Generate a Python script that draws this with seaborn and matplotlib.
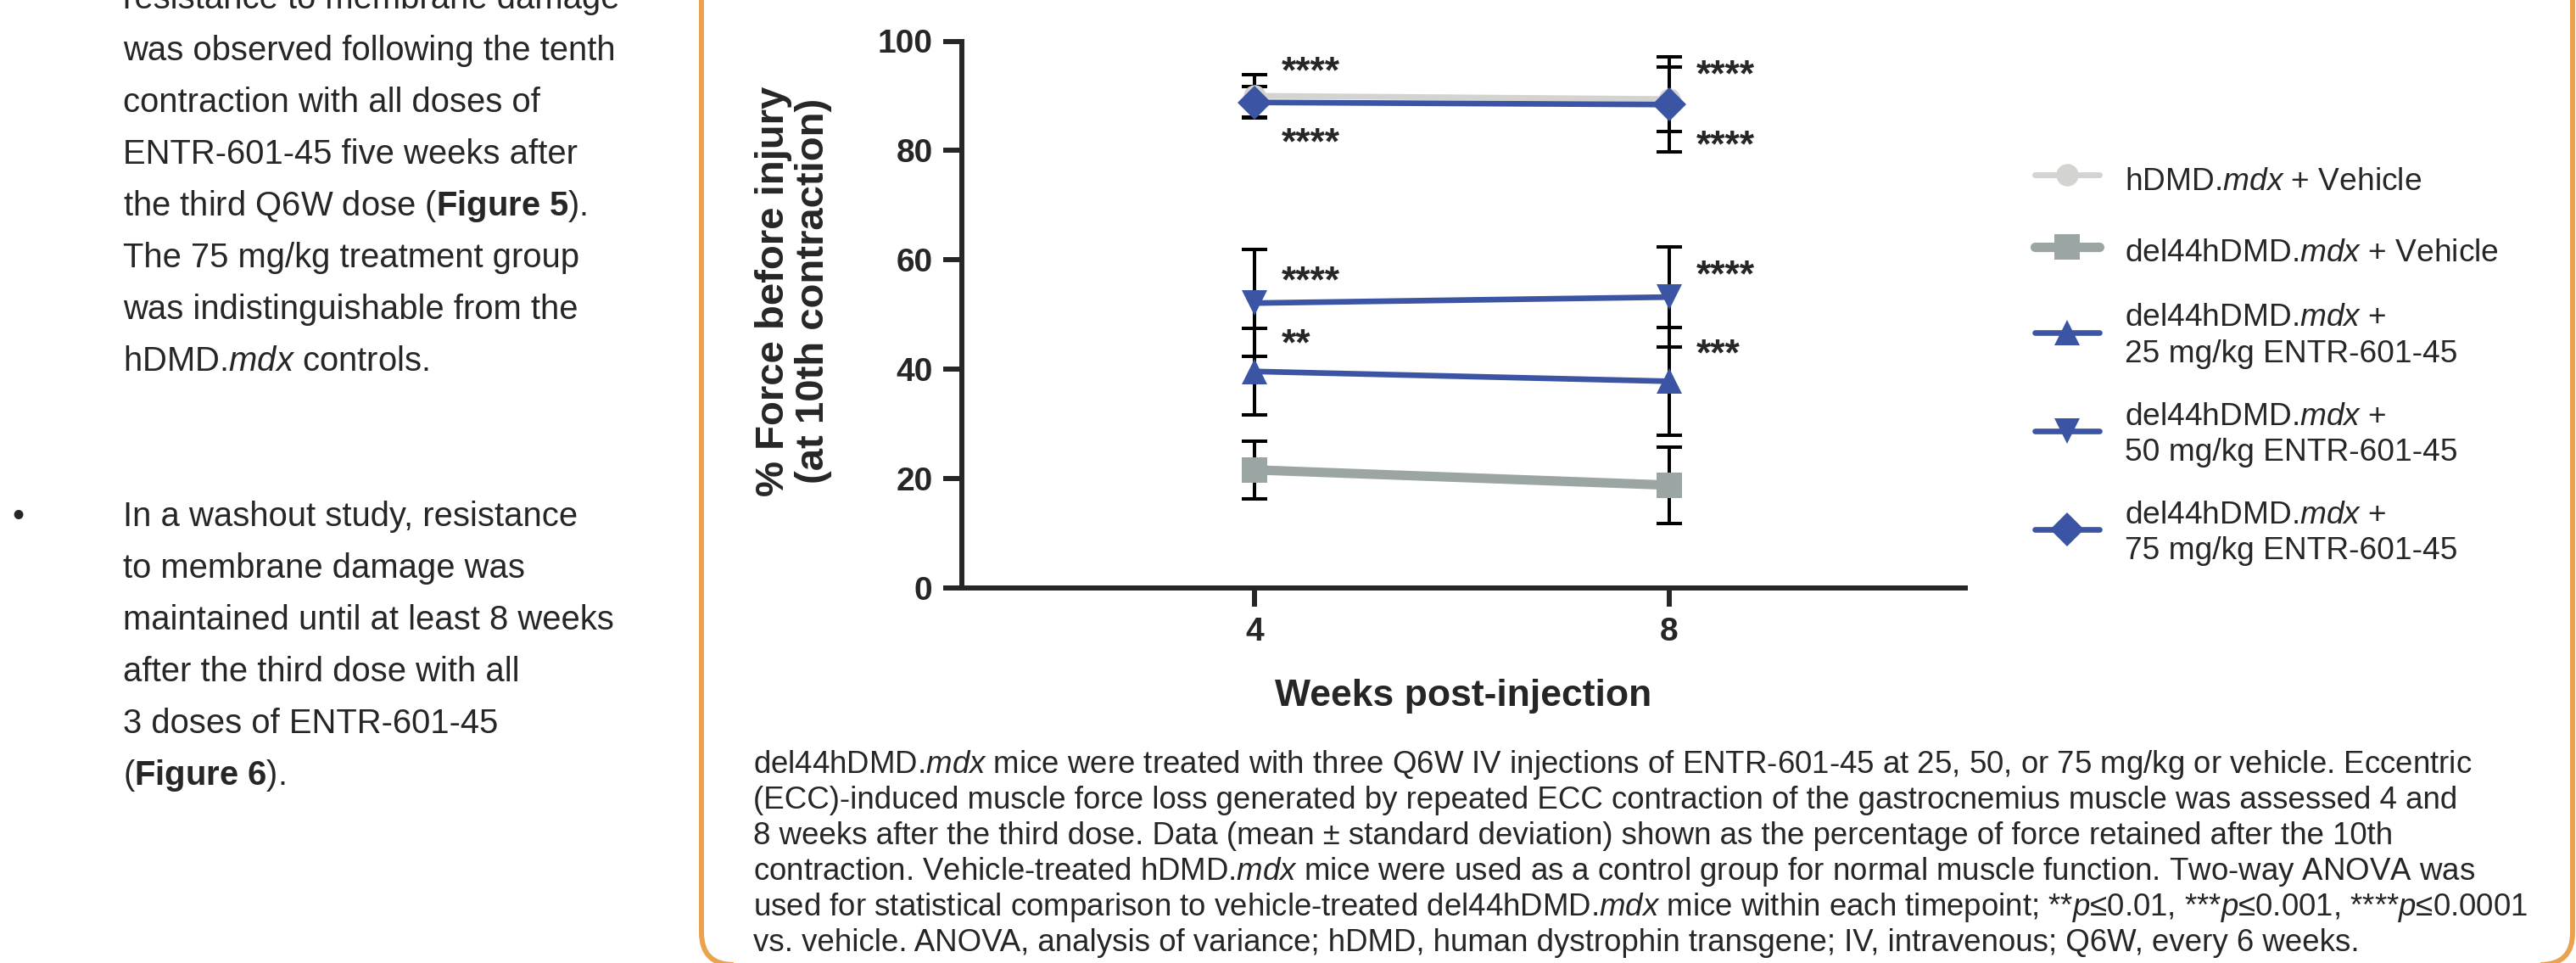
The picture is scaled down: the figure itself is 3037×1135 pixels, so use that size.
import matplotlib
matplotlib.use('Agg')
import matplotlib.pyplot as plt
from matplotlib.patches import FancyBboxPatch
from matplotlib.transforms import IdentityTransform
import pandas as pd
import seaborn as sns

W, H = 3037, 1135

# data (mean, SD) at 4 and 8 weeks
weeks = [4, 8]
hdmd_mean = [90.0, 89.4]
hdmd_sd = [3.9, 5.9]
del44_mean = [21.6, 18.8]
del44_sd = [5.3, 7.0]
d25_mean = [39.6, 37.8]
d25_sd = [7.9, 9.8]
d50_mean = [52.1, 53.2]
d50_sd = [9.8, 9.2]
d75_mean = [88.8, 88.4]
d75_sd = [2.9, 8.7]

hdmd_sig = ['****', '****']
d25_sig = ['**', '***']
d50_sig = ['****', '****']
d75_sig = ['****', '****']

group_names = ['hDMD.$\\mathit{mdx}$ + Vehicle',
               'del44hDMD.$\\mathit{mdx}$ + Vehicle',
               'del44hDMD.$\\mathit{mdx}$ +\n25 mg/kg ENTR-601-45',
               'del44hDMD.$\\mathit{mdx}$ +\n50 mg/kg ENTR-601-45',
               'del44hDMD.$\\mathit{mdx}$ +\n75 mg/kg ENTR-601-45']

left_lines = ['resistance to membrane damage',
              'was observed following the tenth',
              'contraction with all doses of',
              'ENTR-601-45 five weeks after',
              'the third Q6W dose ($\\mathbf{Figure\\ 5}$).',
              'The 75 mg/kg treatment group',
              'was indistinguishable from the',
              'hDMD.$\\mathit{mdx}$ controls.',
              '',
              '',
              'In a washout study, resistance',
              'to membrane damage was',
              'maintained until at least 8 weeks',
              'after the third dose with all',
              '3 doses of ENTR-601-45',
              '($\\mathbf{Figure\\ 6}$).']

caption_lines = [
    'del44hDMD.$\\mathit{mdx}$ mice were treated with three Q6W IV injections of ENTR-601-45 at 25, 50, or 75 mg/kg or vehicle. Eccentric',
    '(ECC)-induced muscle force loss generated by repeated ECC contraction of the gastrocnemius muscle was assessed 4 and',
    '8 weeks after the third dose. Data (mean \u00b1 standard deviation) shown as the percentage of force retained after the 10th',
    'contraction. Vehicle-treated hDMD.$\\mathit{mdx}$ mice were used as a control group for normal muscle function. Two-way ANOVA was',
    'used for statistical comparison to vehicle-treated del44hDMD.$\\mathit{mdx}$ mice within each timepoint; **$\\mathit{p}$\u22640.01, ***$\\mathit{p}$\u22640.001, ****$\\mathit{p}$\u22640.0001',
    'vs. vehicle. ANOVA, analysis of variance; hDMD, human dystrophin transgene; IV, intravenous; Q6W, every 6 weeks.']

sns.set_style('ticks')
plt.rcParams['font.family'] = ['Liberation Sans', 'DejaVu Sans']
plt.rcParams['mathtext.fontset'] = 'custom'
plt.rcParams['mathtext.rm'] = 'Liberation Sans'
plt.rcParams['mathtext.it'] = 'Liberation Sans:italic'
plt.rcParams['mathtext.bf'] = 'Liberation Sans:bold'

light = '#D3D3CF'
gray = '#9BA5A3'
blue = '#3B55A4'

series = [
    (hdmd_mean, hdmd_sd, hdmd_sig, light, 'o', 19, 5.0, 29),
    (del44_mean, del44_sd, None, gray, 's', 21, 8.0, 0),
    (d25_mean, d25_sd, d25_sig, blue, '^', 21, 4.8, 32),
    (d50_mean, d50_sd, d50_sig, blue, 'v', 21, 4.8, 27),
    (d75_mean, d75_sd, d75_sig, blue, 'D', 20.4, 4.8, -26),
]

rows = []
for name, s in zip(group_names, series):
    for wk, m in zip(weeks, s[0]):
        rows.append({'group': name, 'week': wk, 'force': m})
df = pd.DataFrame(rows)

fig = plt.figure(figsize=(W / 100, H / 100), dpi=100)
ax = fig.add_axes([1134 / W, 1 - 693 / H, (2317 - 1134) / W, (693 - 48.5) / H])

handles = []
for i, (name, s) in enumerate(zip(group_names, series)):
    mean, sd, sig, col, mk, ms, lw, dy = s
    ax.errorbar(weeks, mean, yerr=sd, fmt='none', ecolor='black',
                elinewidth=2.9, capsize=10.8, capthick=2.9, zorder=2 + i * 0.1)
    sub = df[df['group'] == name]
    sns.lineplot(data=sub, x='week', y='force', ax=ax, color=col, marker=mk,
                 markersize=ms, markeredgewidth=0, linewidth=lw,
                 errorbar=None, legend=False, zorder=3 + i * 0.1)
    handles.append(ax.lines[-1])
    if sig is not None:
        for wk, m, lab in zip(weeks, mean, sig):
            ax.annotate(lab, (wk, m), xytext=(23, dy - 18), textcoords='offset points',
                        ha='left', va='baseline', fontsize=32, fontweight='bold',
                        annotation_clip=False)

ax.set_xlim(1.178, 10.855)
ax.set_ylim(0, 100)
ax.set_xticks(weeks)
ax.set_yticks([0, 20, 40, 60, 80, 100])
sns.despine(ax=ax)
for sp in ['left', 'bottom']:
    ax.spines[sp].set_linewidth(4.3)
ax.tick_params(axis='both', direction='out', length=15.8, width=4.3, pad=9,
               labelsize=28)
for t in ax.get_xticklabels() + ax.get_yticklabels():
    t.set_fontweight('bold')
ax.set_xlabel('Weeks post-injection', fontsize=32, fontweight='bold', labelpad=26)
ax.set_ylabel('% Force before injury\n(at 10th contraction)', fontsize=34,
              fontweight='bold', linespacing=1.1)
ax.yaxis.set_label_coords(-0.129, 0.543)

leg = fig.legend(handles, group_names, loc='center left',
                 bbox_to_anchor=(2399 / W, 1 - 428 / H), frameon=False,
                 fontsize=26.7, handlelength=2.05, handletextpad=0.8,
                 labelspacing=1.05, handleheight=1.5, borderpad=0,
                 borderaxespad=0, numpoints=1)
for t in leg.get_texts():
    t.set_linespacing(1.27)

# left-hand bullet text
for i, line in enumerate(left_lines):
    if line:
        fig.text(145 / W, 1 - (10 + 61 * i) / H, line, fontsize=28.8,
                 ha='left', va='baseline')
fig.text(14 / W, 1 - (10 + 61 * 10) / H, '\u2022', fontsize=28.8, ha='left',
         va='baseline')

# caption below the chart
for i, line in enumerate(caption_lines):
    fig.text(888 / W, 1 - (911 + 42 * i) / H, line, fontsize=26.4,
             ha='left', va='baseline')

# orange panel border
panel = FancyBboxPatch((827, H - 1137), 3033 - 827, 1300,
                       boxstyle='round,pad=0,rounding_size=38',
                       transform=IdentityTransform(), fill=False,
                       edgecolor='#EBA24E', linewidth=4.3)
fig.add_artist(panel)

fig.savefig('out.png', dpi=100)
